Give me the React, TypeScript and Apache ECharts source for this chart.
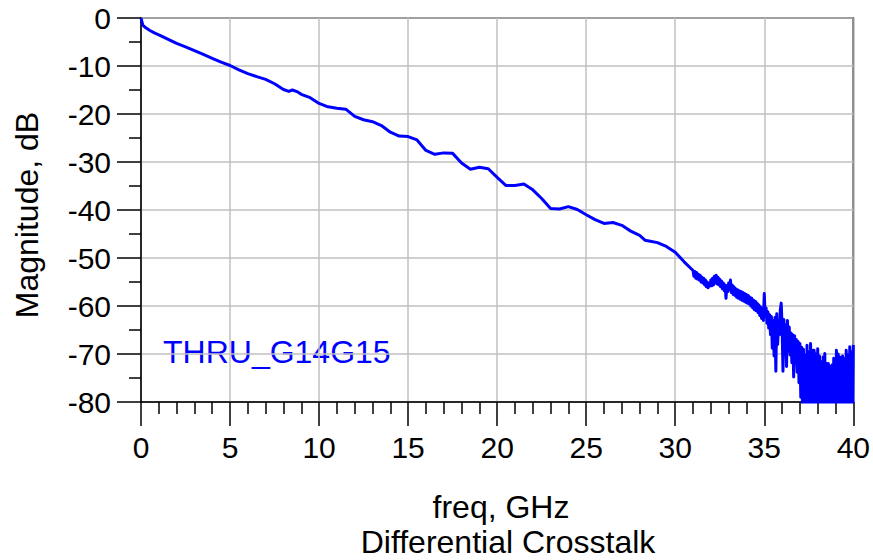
import React, { useEffect, useRef } from "react";
import * as echarts from "echarts";

// Frequency (GHz) and magnitude (dB) samples
const freqGHz = [
  0, 0.1, 0.25, 0.5, 0.75, 1.0, 1.5, 2.0, 2.5, 3.0, 3.5, 4.0, 4.5, 5.0, 5.5, 6.0, 6.5, 7.0, 7.5, 8.0,
  8.3, 8.5, 8.8, 9.0, 9.5, 10.0, 10.5, 11.0, 11.5, 12.0, 12.5, 13.0, 13.5, 14.0, 14.5, 15.0, 15.5,
  16.0, 16.5, 17.0, 17.5, 18.0, 18.5, 19.0, 19.5, 20.0, 20.5, 21.0, 21.5, 22.0, 22.5, 23.0, 23.5,
  24.0, 24.5, 25.0, 25.5, 26.0, 26.5, 27.0, 27.5, 28.0, 28.3, 28.6, 29.0, 29.5, 30.0, 30.5,
  31.0, 31.05, 31.1, 31.15, 31.2, 31.25, 31.3, 31.35, 31.4, 31.45,
  31.5, 31.55, 31.6, 31.65, 31.7, 31.75, 31.8, 31.85, 31.9, 31.95,
  32.0, 32.05, 32.1, 32.15, 32.2, 32.25, 32.3, 32.35, 32.4, 32.45,
  32.5, 32.55, 32.6, 32.65, 32.7, 32.75, 32.8, 32.85, 32.9, 32.95,
  33.0, 33.05, 33.1, 33.15, 33.2, 33.25, 33.3, 33.35, 33.4, 33.45,
  33.5, 33.55, 33.6, 33.65, 33.7, 33.75, 33.8, 33.85, 33.9, 33.95,
  34.0, 34.05, 34.1, 34.15, 34.2, 34.25, 34.3, 34.35, 34.4, 34.45,
  34.5, 34.55, 34.6, 34.65, 34.7, 34.75, 34.8, 34.85, 34.9, 34.95,
  35.0, 35.05, 35.1, 35.15, 35.2, 35.25, 35.3, 35.35, 35.4, 35.45,
  35.5, 35.55, 35.6, 35.65, 35.7, 35.75, 35.8, 35.85, 35.9, 35.95,
  36.0, 36.05, 36.1, 36.15, 36.2, 36.25, 36.3, 36.35, 36.4, 36.45,
  36.5, 36.55, 36.6, 36.65, 36.7, 36.75, 36.8, 36.85, 36.9, 36.95,
  37.0, 37.05, 37.1, 37.15,
  37.2, 37.225, 37.25, 37.275, 37.3, 37.325, 37.35, 37.375,
  37.4, 37.425, 37.45, 37.475, 37.5, 37.525, 37.55, 37.575,
  37.6, 37.625, 37.65, 37.675, 37.7, 37.725, 37.75, 37.775,
  37.8, 37.825, 37.85, 37.875, 37.9, 37.925, 37.95, 37.975,
  38.0, 38.025, 38.05, 38.075, 38.1, 38.125, 38.15, 38.175,
  38.2, 38.225, 38.25, 38.275, 38.3, 38.325, 38.35, 38.375,
  38.4, 38.425, 38.45, 38.475, 38.5, 38.525, 38.55, 38.575,
  38.6, 38.625, 38.65, 38.675, 38.7, 38.725, 38.75, 38.775,
  38.8, 38.825, 38.85, 38.875, 38.9, 38.925, 38.95, 38.975,
  39.0, 39.025, 39.05, 39.075, 39.1, 39.125, 39.15, 39.175,
  39.2, 39.225, 39.25, 39.275, 39.3, 39.325, 39.35, 39.375,
  39.4, 39.425, 39.45, 39.475, 39.5, 39.525, 39.55, 39.575,
  39.6, 39.625, 39.65, 39.675, 39.7, 39.725, 39.75, 39.775,
  39.8, 39.825, 39.85, 39.875, 39.9, 39.925, 39.95, 39.975,
  40.0,
];

const magDB = [
  0, -1.5, -2.0, -2.6, -3.1, -3.5, -4.4, -5.3, -6.0, -6.8, -7.6, -8.4, -9.2, -9.9, -10.8, -11.6, -12.2, -12.8, -13.7, -14.9,
  -15.3, -15.0, -15.4, -15.9, -16.6, -17.8, -18.5, -18.8, -19.0, -20.5, -21.2, -21.6, -22.4, -23.8, -24.6, -24.7, -25.4,
  -27.6, -28.4, -28.1, -28.2, -30.2, -31.5, -31.1, -31.4, -33.2, -34.9, -34.9, -34.6, -35.8, -37.6, -39.7, -39.8,
  -39.3, -39.9, -41.0, -42.0, -42.8, -42.6, -43.2, -44.4, -45.3, -46.3, -46.5, -46.8, -47.6, -48.8, -50.8,
  -52.6, -53.8, -52.8, -54.2, -53.0, -54.4, -53.4, -54.6, -53.6, -55.0,
  -54.0, -55.2, -54.2, -55.6, -54.6, -56.0, -55.0, -56.2, -55.4, -55.8,
  -54.6, -55.8, -54.2, -55.6, -53.8, -55.2, -53.6, -55.4, -54.0, -55.6,
  -54.4, -56.0, -54.8, -56.4, -55.2, -56.8, -55.6, -58.4, -55.8, -57.0,
  -55.2, -56.6, -54.6, -57.2, -55.6, -57.6, -56.0, -57.8, -56.4, -58.2,
  -56.6, -58.4, -56.8, -58.6, -57.0, -58.8, -57.2, -59.0, -57.4, -59.2,
  -57.6, -59.4, -57.8, -59.6, -58.2, -60.0, -58.4, -60.4, -58.8, -60.8,
  -59.0, -61.0, -59.4, -61.4, -59.8, -62.0, -60.2, -62.6, -60.6, -63.0,
  -57.4, -62.0, -60.4, -63.6, -61.2, -64.6, -61.8, -66.0, -62.2, -68.8,
  -63.0, -70.4, -62.4, -73.6, -61.6, -68.0, -63.2, -66.0, -60.8, -59.4,
  -64.2, -73.6, -62.8, -70.0, -64.0, -72.6, -63.0, -69.4, -64.4, -70.2,
  -65.6, -71.8, -66.0, -74.8, -66.2, -72.0, -67.0, -73.8, -67.4, -76.0,
  -67.8, -79.0, -68.6, -82.0,
  -69.0, -82.0, -71.5, -81.0, -70.2, -83.0, -72.4, -81.5,
  -68.2, -82.0, -71.0, -83.0, -69.6, -81.0, -73.0, -82.0,
  -67.8, -81.5, -70.4, -83.0, -72.0, -82.0, -69.2, -81.0,
  -69.2, -83.0, -71.8, -82.0, -70.0, -81.5, -73.2, -82.0,
  -68.9, -81.0, -72.2, -83.0, -70.4, -82.0, -74.0, -81.5,
  -71.6, -82.0, -73.8, -81.0, -70.6, -83.0, -72.8, -82.0,
  -69.9, -81.5, -73.0, -82.0, -72.0, -83.0, -74.6, -81.0,
  -72.0, -82.0, -74.2, -83.0, -72.6, -81.5, -75.0, -82.0,
  -72.3, -81.0, -74.0, -83.0, -70.9, -82.0, -73.4, -81.5,
  -71.6, -82.0, -69.2, -83.0, -72.4, -81.0, -70.0, -82.0,
  -72.8, -81.5, -70.6, -83.0, -73.6, -82.0, -71.2, -81.0,
  -70.4, -82.0, -73.4, -83.0, -71.0, -81.5, -74.2, -82.0,
  -69.2, -81.0, -72.6, -83.0, -70.2, -82.0, -73.0, -81.5,
  -68.5, -82.0, -71.4, -83.0, -69.6, -81.0, -72.2, -82.0,
  -68.1,
];

const xTicks = [0, 5, 10, 15, 20, 25, 30, 35, 40];
const yTicks = [0, -10, -20, -30, -40, -50, -60, -70, -80];
const traceName = "THRU_G14G15";
const xAxisTitle = "freq, GHz";
const chartTitle = "Differential Crosstalk";
const yAxisTitle = "Magnitude, dB";

const FONT = "'Liberation Sans', Arial, sans-serif";

export default function App() {
  const ref = useRef<HTMLDivElement>(null);

  useEffect(() => {
    if (!ref.current) return;
    const chart = echarts.init(ref.current, undefined, { renderer: "svg" });
    const data = freqGHz.map((f, i) => [f, magDB[i]]);
    const xMin = xTicks[0];
    const xMax = xTicks[xTicks.length - 1];
    const yMax = yTicks[0];
    const yMin = yTicks[yTicks.length - 1];

    chart.setOption({
      animation: false,
      backgroundColor: "#ffffff",
      grid: {
        left: 141,
        right: 16,
        top: 18,
        bottom: 158,
        show: true,
        borderColor: "#000000",
        borderWidth: 1.5,
        containLabel: false,
      },
      xAxis: {
        type: "value",
        min: xMin,
        max: xMax,
        interval: 5,
        axisLine: { show: true, onZero: false, lineStyle: { color: "#000", width: 1.5 } },
        axisTick: { show: true, inside: false, length: 24, lineStyle: { color: "#000", width: 1.5 } },
        minorTick: { show: true, splitNumber: 5, length: 12, lineStyle: { color: "#000", width: 1.5 } },
        splitLine: { show: true, lineStyle: { color: "#c0c0c0", width: 1.5 } },
        axisLabel: {
          color: "#000",
          fontSize: 30,
          fontFamily: FONT,
          margin: 30,
          formatter: (v: number) => (xTicks.includes(v) ? String(v) : ""),
        },
      },
      yAxis: {
        type: "value",
        min: yMin,
        max: yMax,
        interval: 10,
        axisLine: { show: true, onZero: false, lineStyle: { color: "#000", width: 1.5 } },
        axisTick: { show: true, inside: false, length: 24, lineStyle: { color: "#000", width: 1.5 } },
        minorTick: { show: true, splitNumber: 2, length: 12, lineStyle: { color: "#000", width: 1.5 } },
        splitLine: { show: true, lineStyle: { color: "#c0c0c0", width: 1.5 } },
        axisLabel: {
          color: "#000",
          fontSize: 30,
          fontFamily: FONT,
          margin: 30,
          formatter: (v: number) => (yTicks.includes(v) ? String(v) : ""),
        },
      },
      series: [
        {
          name: traceName,
          type: "line",
          data,
          showSymbol: false,
          symbol: "none",
          clip: true,
          lineStyle: { color: "#0000ff", width: 3, join: "round" },
        },
      ],
      graphic: [
        {
          type: "text",
          x: 163,
          y: 352,
          style: {
            text: traceName,
            fill: "#0000ff",
            font: `32px ${FONT}`,
            textAlign: "left",
            textVerticalAlign: "middle",
          },
        },
        {
          type: "text",
          x: 501,
          y: 507,
          style: {
            text: xAxisTitle,
            fill: "#000",
            font: `32px ${FONT}`,
            textAlign: "center",
            textVerticalAlign: "middle",
          },
        },
        {
          type: "text",
          x: 508,
          y: 542,
          style: {
            text: chartTitle,
            fill: "#000",
            font: `32px ${FONT}`,
            textAlign: "center",
            textVerticalAlign: "middle",
          },
        },
        {
          type: "text",
          x: 27,
          y: 215,
          rotation: Math.PI / 2,
          style: {
            text: yAxisTitle,
            fill: "#000",
            font: `32px ${FONT}`,
            textAlign: "center",
            textVerticalAlign: "middle",
          },
        },
      ],
    });

    return () => chart.dispose();
  }, []);

  return <div ref={ref} style={{ width: 873, height: 560, position: "absolute", left: 0, top: 0 }} />;
}
